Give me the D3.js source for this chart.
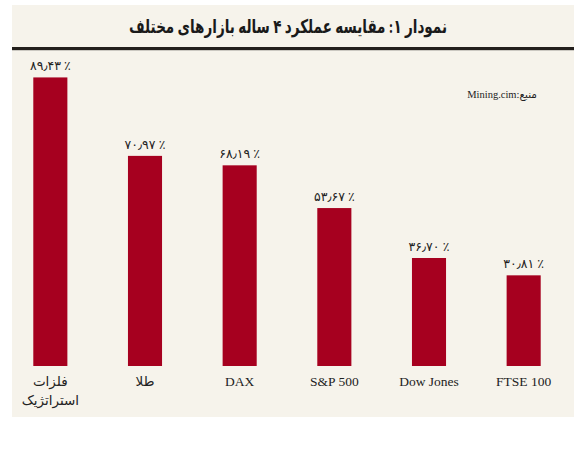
<!DOCTYPE html>
<html>
<head>
<meta charset="utf-8">
<script src="https://cdn.jsdelivr.net/npm/d3@7"></script>
<style>
html,body{margin:0;padding:0;background:#ffffff;}
svg{display:block;}
text{font-family:"Liberation Serif","DejaVu Serif","DejaVu Sans",serif;}
</style>
</head>
<body>
<svg id="chart" width="574" height="449"></svg>
<script>
const titleText = "نمودار ۱: مقایسه عملکرد ۴ ساله بازارهای مختلف";
const sourceText = "منبع:Mining.cim";
const categories = ["فلزات استراتژیک", "طلا", "DAX", "S&P 500", "Dow Jones", "FTSE 100"];
const values = [89.43, 70.97, 68.19, 53.67, 36.70, 30.81];
// axis breakpoints (the original chart stretches the tallest bar)
const scaleBreaks = [0, 70, 90];

const svg = d3.select("#chart");
const W = 574;
const panel = {x: 12, y: 5, w: W - 12, h: 412};
const barColor = "#a6001f";

svg.append("rect").attr("x", panel.x).attr("y", panel.y)
  .attr("width", panel.w).attr("height", panel.h).attr("fill", "#f6f3eb");

svg.append("rect").attr("x", panel.x).attr("y", 47)
  .attr("width", panel.w).attr("height", 3.2).attr("fill", "#231f1c");

svg.append("text").attr("x", 288).attr("y", 33)
  .attr("text-anchor", "middle").attr("direction", "rtl")
  .attr("textLength", 318).attr("lengthAdjust", "spacingAndGlyphs")
  .style("font-size", "19px").style("font-weight", "bold").attr("fill", "#1a1a1a")
  .text(titleText);

svg.append("text").attr("x", 537).attr("y", 98)
  .attr("direction", "rtl").attr("text-anchor", "start")
  .style("font-size", "10.5px").attr("fill", "#222").text(sourceText);

const x = d3.scaleBand().domain(categories).range([3, 571])
  .paddingInner(0.64).paddingOuter(0.32);
const y = d3.scaleLinear().domain(scaleBreaks).range([366, 160, 75]);

const faDigits = "۰۱۲۳۴۵۶۷۸۹";
function fa(v){
  return v.toFixed(2).replace(/[0-9]/g, d => faDigits[+d]).replace(".", "٫");
}

const data = categories.map((c, i) => ({c, v: values[i]}));

svg.append("g").selectAll("rect").data(data).join("rect")
  .attr("x", d => x(d.c)).attr("width", x.bandwidth())
  .attr("y", d => y(d.v)).attr("height", d => y(0) - y(d.v))
  .attr("fill", barColor);

svg.append("g").selectAll("text").data(data).join("text")
  .attr("x", d => x(d.c) + x.bandwidth() / 2)
  .attr("y", d => y(d.v) - 7)
  .attr("text-anchor", "middle").attr("direction", "ltr")
  .style("font-size", "12.5px").style("font-weight", "normal").attr("fill", "#222")
  .text(d => fa(d.v) + " ٪");

const xAxis = d3.axisBottom(x).tickSize(0).tickPadding(0);
const ag = svg.append("g").attr("transform", "translate(0,376)").call(xAxis);
ag.select(".domain").remove();
ag.selectAll(".tick text").each(function(d){
  const t = d3.select(this);
  t.text(null).attr("y", 10).attr("dy", null)
    .style("font-size", "13.5px").attr("fill", "#222")
    .style("font-family", "\"Liberation Serif\",\"DejaVu Sans\",serif");
  const words = /[\u0600-\u06FF]/.test(d) && d.includes(" ") ? d.split(" ") : [d];
  words.forEach((w, i) => {
    t.append("tspan").attr("x", 0).attr("dy", i === 0 ? 0 : 19).text(w);
  });
});
</script>
</body>
</html>
